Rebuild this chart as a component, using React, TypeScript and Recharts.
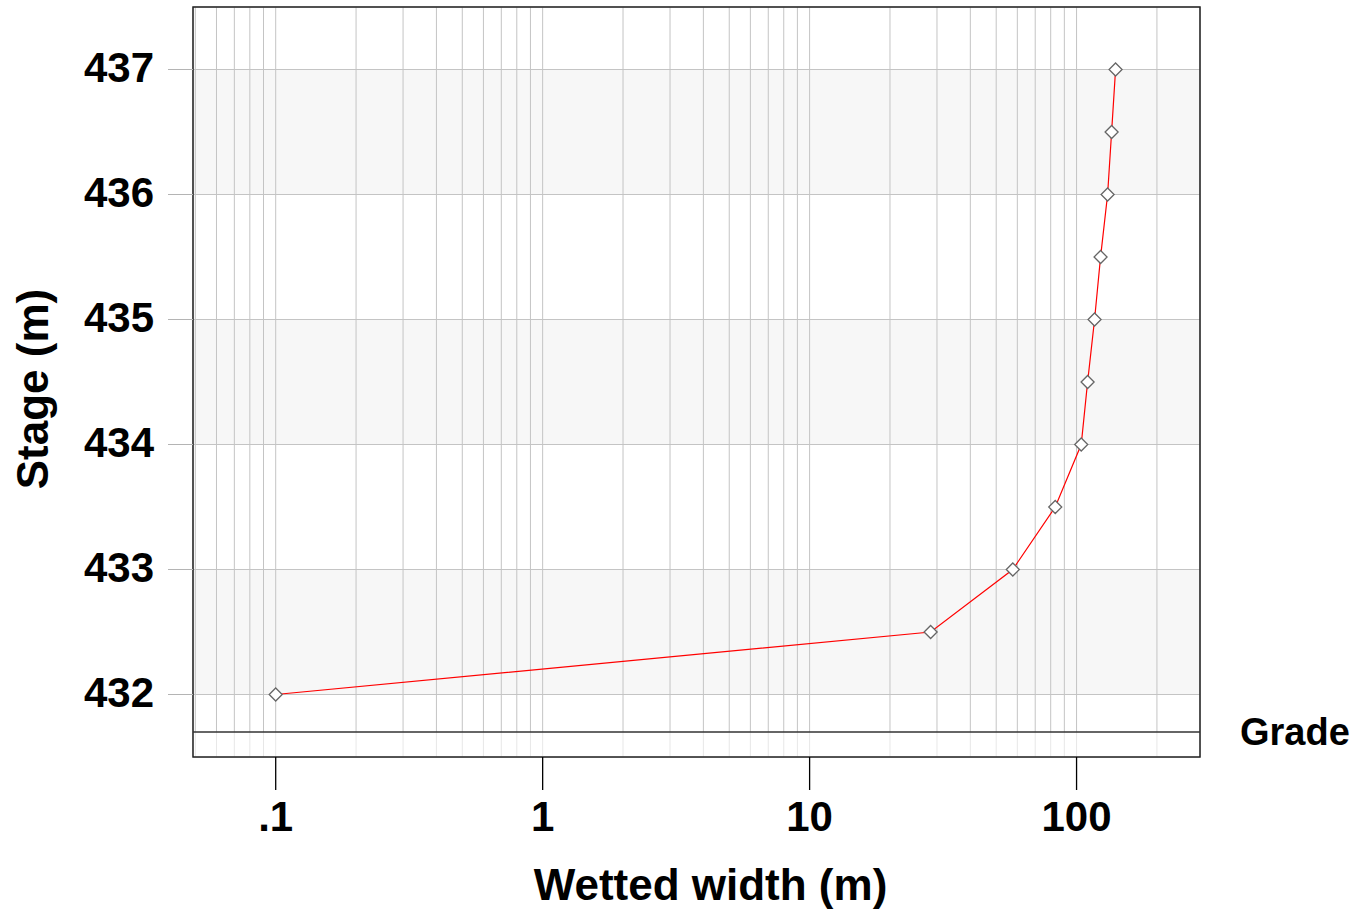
import React from 'react';
import { LineChart, Line, XAxis, YAxis, CartesianGrid, ReferenceLine, ReferenceArea, Label } from 'recharts';

const widths = [0.1, 28.4, 57.7, 83.2, 104.1, 110, 116.8, 123, 130.7, 135.3, 140];
const stages = [432, 432.5, 433, 433.5, 434, 434.5, 435, 435.5, 436, 436.5, 437];
const xGridValues = [
  0.05, 0.06, 0.07, 0.08, 0.09,
  0.1, 0.2, 0.3, 0.4, 0.5, 0.6, 0.7, 0.8, 0.9,
  1, 2, 3, 4, 5, 6, 7, 8, 9,
  10, 20, 30, 40, 50, 60, 70, 80, 90,
  100, 200,
];
const xLabelValues = [0.1, 1, 10, 100];
const xLabels = ['.1', '1', '10', '100'];
const yTicks = [432, 433, 434, 435, 436, 437];
const gradeStage = 431.7;
const gradeLabel = 'Grade';
const xDomain = [0.049, 290];
const yDomain = [431.5, 437.5];
const xTitle = 'Wetted width (m)';
const yTitle = 'Stage (m)';

const data = widths.map((w, i) => ({ w, s: stages[i] }));

const FONT = '"Liberation Sans", Arial, sans-serif';
const X_TICK_SIZE = 33;
const X_TICK_MARGIN = 8;

const XTick = (props: any) => {
  const { x, y, payload } = props;
  const idx = xLabelValues.indexOf(payload.value);
  if (idx < 0) return <g />;
  const top = y - X_TICK_MARGIN - X_TICK_SIZE;
  return (
    <g>
      <line x1={x} x2={x} y1={top} y2={top + X_TICK_SIZE} stroke="#000" strokeWidth={1.3} />
      <text x={x} y={top + 74} textAnchor="middle" fontFamily={FONT} fontWeight="bold" fontSize={42} fill="#000">
        {xLabels[idx]}
      </text>
    </g>
  );
};

const YTick = (props: any) => {
  const { x, y, payload } = props;
  return (
    <text x={x} y={y + 12} textAnchor="end" fontFamily={FONT} fontWeight="bold" fontSize={42} fill="#000">
      {payload.value}
    </text>
  );
};

const Diamond = (props: any) => {
  const { cx, cy } = props;
  if (cx == null || cy == null) return <g />;
  const r = 6.5;
  return (
    <polygon
      points={`${cx},${cy - r} ${cx + r},${cy} ${cx},${cy + r} ${cx - r},${cy}`}
      fill="#fff"
      stroke="#666"
      strokeWidth={1.3}
    />
  );
};

export default function App() {
  return (
    <div style={{ position: 'absolute', left: 0, top: 0, width: 1356, height: 912, background: '#fff' }}>
      <LineChart width={1356} height={912} data={data} margin={{ top: 7, right: 156, left: 0, bottom: 0 }}>
        <CartesianGrid
          stroke="#c4c4c4"
          strokeWidth={1}
          horizontalFill={['#ffffff', '#f7f7f7']}
          fillOpacity={1}
        />
        <ReferenceArea y1={yDomain[0]} y2={gradeStage} fill="#ffffff" fillOpacity={0.6} stroke="none" ifOverflow="hidden" />
        <XAxis
          dataKey="w"
          type="number"
          scale="log"
          domain={xDomain}
          allowDataOverflow
          ticks={xGridValues}
          interval={0}
          height={155}
          axisLine={false}
          tickLine={false}
          tickSize={X_TICK_SIZE}
          tickMargin={X_TICK_MARGIN}
          tick={<XTick />}
        >
          <Label
            content={(p: any) => {
              const vb = p.viewBox || {};
              return (
                <text
                  x={vb.x + vb.width / 2 + 14}
                  y={vb.y + vb.height - 12}
                  textAnchor="middle"
                  fontFamily={FONT}
                  fontWeight="bold"
                  fontSize={44}
                  fill="#000"
                >
                  {xTitle}
                </text>
              );
            }}
          />
        </XAxis>
        <YAxis
          type="number"
          domain={yDomain}
          allowDataOverflow
          ticks={yTicks}
          interval={0}
          width={193}
          axisLine={false}
          tickLine={{ stroke: '#b4b4b4', strokeWidth: 1 }}
          tickSize={25}
          tickMargin={14}
          tick={<YTick />}
        >
          <Label
            content={(p: any) => {
              const vb = p.viewBox || {};
              const cx = 48;
              const cy = vb.y + vb.height / 2 + 7;
              return (
                <text
                  x={cx}
                  y={cy}
                  transform={`rotate(-90, ${cx}, ${cy})`}
                  textAnchor="middle"
                  fontFamily={FONT}
                  fontWeight="bold"
                  fontSize={44}
                  fill="#000"
                >
                  {yTitle}
                </text>
              );
            }}
          />
        </YAxis>
        <ReferenceLine
          y={gradeStage}
          stroke="#333"
          strokeWidth={1.5}
          label={{
            value: gradeLabel,
            position: 'right',
            offset: 40,
            fill: '#000',
            fontSize: 38,
            fontWeight: 'bold',
            fontFamily: FONT,
          }}
        />
        <ReferenceArea
          x1={xDomain[0]}
          x2={xDomain[1]}
          y1={yDomain[0]}
          y2={yDomain[1]}
          fill="none"
          stroke="#222"
          strokeWidth={1.5}
          ifOverflow="visible"
        />
        <Line
          dataKey="s"
          type="linear"
          stroke="#ff0000"
          strokeWidth={1.2}
          dot={<Diamond />}
          activeDot={false}
          isAnimationActive={false}
        />
      </LineChart>
    </div>
  );
}
